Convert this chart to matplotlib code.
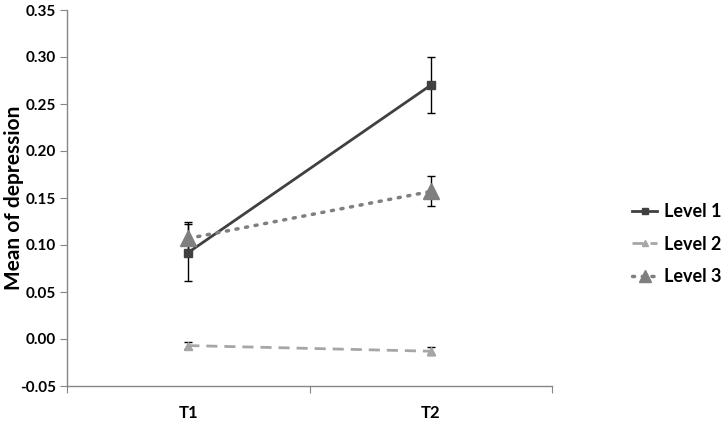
import matplotlib
matplotlib.use("Agg")
import matplotlib.pyplot as plt
from matplotlib.lines import Line2D
import numpy as np

categories = ["T1", "T2"]
level1 = [0.092, 0.270]
level1_err = [0.030, 0.030]
level2 = [-0.007, -0.013]
level2_err = [0.004, 0.004]
level3 = [0.107, 0.157]
level3_err = [0.017, 0.016]
yticks = [-0.05, 0.00, 0.05, 0.10, 0.15, 0.20, 0.25, 0.30, 0.35]
series_names = ["Level 1", "Level 2", "Level 3"]

plt.rcParams['font.family'] = ['Lato', 'DejaVu Sans']

fig = plt.figure(figsize=(7.27, 4.22), dpi=100)
ax = fig.add_axes([67/727, 1-386/422, (552-67)/727, (386-10)/422])

x = np.arange(len(categories)) + 0.5
ekw = dict(ecolor='black', elinewidth=1.0, capsize=3, capthick=1.0)
styles = [
    dict(color='#404040', lw=2, ls='-', marker='s', ms=6),
    dict(color='#a6a6a6', lw=2, ls=(0, (4, 2.5)), marker='^', ms=6),
    dict(color='#7f7f7f', lw=2.5, ls=(0, (0.6, 2.2)), dash_capstyle='round', marker='^', ms=11),
]
for vals, errs, st in zip([level1, level2, level3], [level1_err, level2_err, level3_err], styles):
    ax.errorbar(x, vals, yerr=errs, zorder=3, **st, **ekw)

ax.set_xlim(0, 2)
ax.set_ylim(-0.05, 0.35)
ax.set_yticks(yticks)
ax.set_yticklabels([f"{v:.2f}" for v in yticks], fontsize=11, fontweight='bold')
ax.set_xticks([0, 1, 2])
ax.set_xticklabels([])
ax.set_xticks(x, minor=True)
ax.set_xticklabels(categories, minor=True, fontsize=12, fontweight='bold')
ax.tick_params(axis='x', which='minor', length=0, pad=14)
ax.tick_params(axis='x', which='major', length=5, direction='out', color='#868686')
ax.tick_params(axis='y', length=5, direction='out', color='#868686', pad=3)

for s in ['top', 'right']:
    ax.spines[s].set_visible(False)
for s in ['left', 'bottom']:
    ax.spines[s].set_color('#868686')
    ax.spines[s].set_linewidth(1.0)

ax.set_ylabel('Mean of depression', fontsize=15, fontweight='bold')
ax.yaxis.set_label_coords((24 - 67) / 485, 0.5)

handles = []
for st in styles:
    st2 = dict(st)
    st2['ms'] = 8 if st['ms'] > 8 else 5
    handles.append(Line2D([0], [0], **st2))
leg = fig.legend(handles, series_names, loc='center left', bbox_to_anchor=(632/727, 1 - 244/422),
                 frameon=False, prop={'weight': 'bold', 'size': 13}, handlelength=1.4,
                 labelspacing=0.85, handletextpad=0.35, borderpad=0, borderaxespad=0)

fig.savefig('out.png', dpi=100)
